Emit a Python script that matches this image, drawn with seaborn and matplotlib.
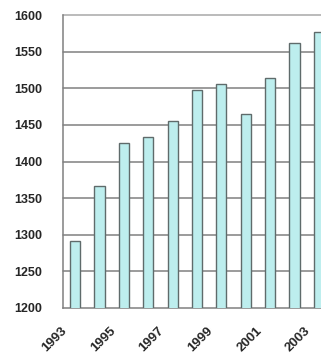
import matplotlib
matplotlib.use("Agg")
import matplotlib.pyplot as plt
import matplotlib.transforms as mtransforms
import numpy as np
import pandas as pd
import seaborn as sns

years = ["1993", "1994", "1995", "1996", "1997", "1998",
         "1999", "2000", "2001", "2002", "2003"]
values = [1292, 1367, 1425, 1433, 1455, 1498, 1506, 1465, 1514, 1562, 1577]
y_ticks = [1200, 1250, 1300, 1350, 1400, 1450, 1500, 1550, 1600]
x_labels = ["1993", "1995", "1997", "1999", "2001", "2003"]

sns.set_style("white")
plt.rcParams["font.family"] = ["Liberation Sans", "DejaVu Sans"]

df = pd.DataFrame({"year": years, "value": values})

fig = plt.figure(figsize=(3.21, 3.56), dpi=100)
ax = fig.add_axes([63 / 321, 1 - 308 / 356, 268 / 321, 293 / 356])

grid_col = "#808080"
sns.barplot(data=df, x="year", y="value", ax=ax, width=0.42,
            color="#bdeeee", edgecolor="#5f6b6b", linewidth=1.0,
            saturation=1, zorder=3)

ax.set_ylim(1200, 1600)
ax.set_xlim(-0.5, len(years) - 0.5)
ax.set_yticks(y_ticks)
ax.set_yticklabels([str(v) for v in y_ticks], fontsize=9, fontweight="bold")
for v in y_ticks[1:]:
    ax.axhline(v, color=grid_col if v != 1600 else "#a8a8a8",
               linewidth=1.1, zorder=1, clip_on=False)

# category boundary ticks on the x axis, labels on every other year
ax.set_xticks(np.arange(-0.5, len(years), 1.0))
ax.set_xticklabels([])
idx = [years.index(y) for y in x_labels]
ax.set_xticks(idx, minor=True)
ax.set_xticklabels(x_labels, minor=True, rotation=45, ha="right",
                   fontsize=9.5, fontweight="bold")
ax.tick_params(axis="x", which="major", length=4, width=1, color=grid_col,
               direction="out")
ax.tick_params(axis="x", which="minor", length=0, pad=12)
offset = mtransforms.ScaledTranslation(-0.06, 0, fig.dpi_scale_trans)
for lbl in ax.get_xticklabels(minor=True):
    lbl.set_transform(lbl.get_transform() + offset)

ax.tick_params(axis="y", length=5, width=1, color=grid_col, direction="out",
               pad=10)
ax.set_xlabel("")
ax.set_ylabel("")
for side in ["top", "right"]:
    ax.spines[side].set_visible(False)
for side in ["left", "bottom"]:
    ax.spines[side].set_color(grid_col)
    ax.spines[side].set_linewidth(1.1)

fig.savefig("out.png", dpi=100)
